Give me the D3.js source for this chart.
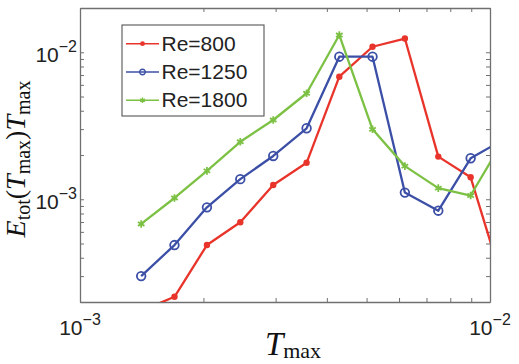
<!DOCTYPE html>
<html>
<head>
<meta charset="utf-8">
<script src="https://cdn.jsdelivr.net/npm/d3@7"></script>
<style>
  html, body { margin: 0; padding: 0; background: #fff; }
  svg { display: block; }
</style>
</head>
<body>
<div id="chart"></div>
<script>
// T_max sample points and E_tot(T_max)*T_max per Reynolds number
const tmax   = [1.41e-3, 1.70e-3, 2.04e-3, 2.46e-3, 2.96e-3, 3.57e-3, 4.29e-3, 5.17e-3, 6.20e-3, 7.48e-3, 8.97e-3, 1.08e-2];
const re800  = [1.74e-4, 2.17e-4, 4.88e-4, 6.97e-4, 1.25e-3, 1.77e-3, 6.82e-3, 1.09e-2, 1.24e-2, 1.95e-3, 1.41e-3, 2.6e-4];
const re1250 = [3.00e-4, 4.88e-4, 8.81e-4, 1.37e-3, 1.97e-3, 3.04e-3, 9.33e-3, 9.33e-3, 1.11e-3, 8.36e-4, 1.90e-3, 2.55e-3];
const re1800 = [6.79e-4, 1.02e-3, 1.56e-3, 2.46e-3, 3.46e-3, 5.26e-3, 1.31e-2, 2.99e-3, 1.68e-3, 1.19e-3, 1.06e-3, 2.54e-3];
const seriesNames = ["Re=800", "Re=1250", "Re=1800"];
const xTickLabels = [{v: 1e-3, exp: "\u22123"}, {v: 1e-2, exp: "\u22122"}];
const yTickLabels = [{v: 1e-2, exp: "\u22122"}, {v: 1e-3, exp: "\u22123"}];

const width = 519, height = 364;
const mLeft = 80, mRight = 490, mTop = 8, mBottom = 302;

const svg = d3.select("#chart").append("svg")
    .attr("width", width)
    .attr("height", height);

const x = d3.scaleLog().domain([1e-3, 1e-2]).range([mLeft, mRight]);
const y = d3.scaleLog().domain([2e-4, 2e-2]).range([mBottom, mTop]);

const series = [
  {name: seriesNames[0], values: re800,  color: "#e8342a", marker: "dot"},
  {name: seriesNames[1], values: re1250, color: "#3c4fa6", marker: "circle"},
  {name: seriesNames[2], values: re1800, color: "#7cc144", marker: "star"}
];

svg.append("clipPath").attr("id", "clip")
  .append("rect")
    .attr("x", mLeft).attr("y", mTop)
    .attr("width", mRight - mLeft).attr("height", mBottom - mTop);

// axes box with inward ticks on all four sides
const axisColor = "#707070";
function styleAxis(g) {
  g.selectAll("path.domain").attr("stroke", axisColor).attr("stroke-width", 1.3);
  g.selectAll(".tick line").attr("stroke", axisColor).attr("stroke-width", 1);
  g.selectAll(".tick text").remove();
}
svg.append("g").attr("transform", `translate(0,${mBottom})`)
  .call(d3.axisBottom(x).tickSizeInner(-4).tickSizeOuter(0).tickFormat("")).call(styleAxis);
svg.append("g").attr("transform", `translate(0,${mTop})`)
  .call(d3.axisTop(x).tickSizeInner(-4).tickSizeOuter(0).tickFormat("")).call(styleAxis);
svg.append("g").attr("transform", `translate(${mLeft},0)`)
  .call(d3.axisLeft(y).tickSizeInner(-4).tickSizeOuter(0).tickFormat("")).call(styleAxis);
svg.append("g").attr("transform", `translate(${mRight},0)`)
  .call(d3.axisRight(y).tickSizeInner(-4).tickSizeOuter(0).tickFormat("")).call(styleAxis);

// tick labels with superscript exponents
const labelFont = "'Liberation Sans', Arial, Helvetica, sans-serif";
const xl = svg.append("g").selectAll("text").data(xTickLabels).enter().append("text")
    .attr("x", d => x(d.v))
    .attr("y", 335)
    .attr("text-anchor", "middle")
    .attr("font-family", labelFont)
    .attr("font-size", 21)
    .attr("fill", "#222");
xl.append("tspan").text("10");
xl.append("tspan").attr("dy", -10).attr("font-size", 16).text(d => d.exp);

const yl = svg.append("g").selectAll("text").data(yTickLabels).enter().append("text")
    .attr("x", 77)
    .attr("y", d => y(d.v) + 9.5)
    .attr("text-anchor", "end")
    .attr("font-family", labelFont)
    .attr("font-size", 21)
    .attr("fill", "#222");
yl.append("tspan").text("10");
yl.append("tspan").attr("dy", -10).attr("font-size", 16).text(d => d.exp);

// lines and markers
const line = d3.line().x((d, i) => x(tmax[i])).y(d => y(d));
const plot = svg.append("g").attr("clip-path", "url(#clip)");

const starType = d3.symbolAsterisk || d3.symbolX;

function drawMarker(sel, s) {
  if (s.marker === "dot") {
    sel.append("circle").attr("r", 3.2).attr("fill", s.color).attr("stroke", "none");
  } else if (s.marker === "circle") {
    sel.append("circle").attr("r", 4.3).attr("fill", "none")
      .attr("stroke", s.color).attr("stroke-width", 1.8);
  } else {
    sel.append("path").attr("d", d3.symbol(starType, 40)()).attr("fill", "none")
      .attr("stroke", s.color).attr("stroke-width", 1.8);
  }
}

series.forEach(s => {
  plot.append("path")
    .datum(s.values)
    .attr("d", line)
    .attr("fill", "none")
    .attr("stroke", s.color)
    .attr("stroke-width", 2.3)
    .attr("stroke-linejoin", "round");
  plot.append("g").selectAll("g").data(s.values).enter().append("g")
    .attr("transform", (d, i) => `translate(${x(tmax[i])},${y(d)})`)
    .each(function() { drawMarker(d3.select(this), s); });
});

// legend
const legend = svg.append("g");
legend.append("rect")
  .attr("x", 122).attr("y", 25).attr("width", 142).attr("height", 91)
  .attr("fill", "#fff").attr("stroke", "#555").attr("stroke-width", 1.1);
series.forEach((s, i) => {
  const ly = 43.7 + i * 28.3;
  const item = legend.append("g");
  item.append("line")
    .attr("x1", 126).attr("x2", 159).attr("y1", ly).attr("y2", ly)
    .attr("stroke", s.color).attr("stroke-width", 1.6);
  const m = item.append("g").attr("transform", `translate(142.5,${ly})`);
  if (s.marker === "circle") {
    m.append("circle").attr("r", 2.8).attr("fill", "none").attr("stroke", s.color).attr("stroke-width", 1.4);
  } else if (s.marker === "dot") {
    m.append("circle").attr("r", 2.4).attr("fill", s.color);
  } else {
    m.append("path").attr("d", d3.symbol(starType, 20)())
      .attr("fill", "none").attr("stroke", s.color).attr("stroke-width", 1.4);
  }
  item.append("text")
    .attr("x", 161.5).attr("y", ly + 6.8)
    .attr("font-family", labelFont)
    .attr("font-size", 21)
    .attr("fill", "#222")
    .text(s.name);
});

// axis titles (serif, math style)
const mathFont = "'Liberation Serif', 'Times New Roman', serif";
const xt = svg.append("text")
    .attr("x", 293).attr("y", 355)
    .attr("text-anchor", "middle")
    .attr("font-family", mathFont)
    .attr("font-size", 33)
    .attr("fill", "#111");
xt.append("tspan").attr("font-style", "italic").text("T");
xt.append("tspan").attr("font-size", 22).attr("dy", 3).text("max");

const yt = svg.append("text")
    .attr("transform", "translate(25,159) rotate(-90)")
    .attr("text-anchor", "middle")
    .attr("font-family", mathFont)
    .attr("font-size", 28)
    .attr("fill", "#111");
yt.append("tspan").attr("font-style", "italic").text("E");
yt.append("tspan").attr("font-size", 20).attr("dy", 5).text("tot");
yt.append("tspan").attr("dy", -5).text("(");
yt.append("tspan").attr("font-style", "italic").text("T");
yt.append("tspan").attr("font-size", 20).attr("dy", 5).text("max");
yt.append("tspan").attr("dy", -5).text(")");
yt.append("tspan").attr("font-style", "italic").text("T");
yt.append("tspan").attr("font-size", 20).attr("dy", 5).text("max");
</script>
</body>
</html>
